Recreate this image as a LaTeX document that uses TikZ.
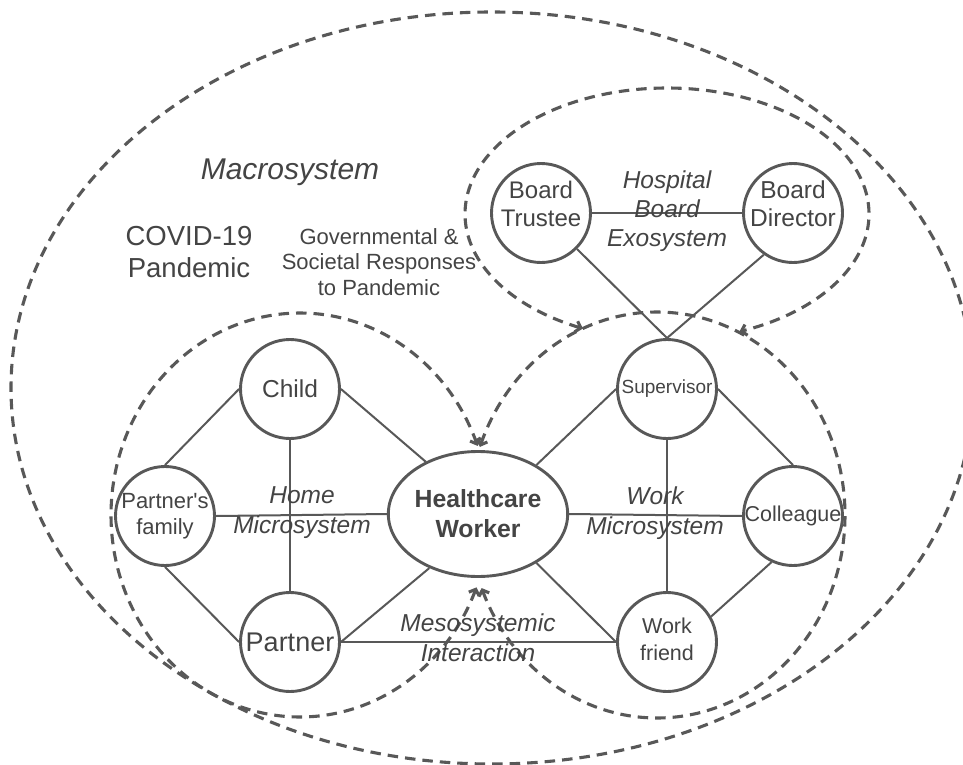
\documentclass[tikz,border=0pt]{standalone}
\usepackage{fontspec}
\setmainfont{Liberation Sans}
\usetikzlibrary{arrows.meta,shapes.geometric}
\definecolor{ln}{RGB}{88,88,88}
\definecolor{tx}{RGB}{68,68,68}
\newcommand\myfs[2]{\fontsize{#1}{#2}\selectfont}
\begin{document}
\begin{tikzpicture}[x=1pt,y=-1pt,
  dsh/.style={draw=ln, line width=3.1pt, dash pattern=on 10.5pt off 7pt},
  bb/.style={{Straight Barb[length=5pt,width=11pt]}-{Straight Barb[length=5pt,width=11pt]}},
  nd/.style={circle, draw=ln, line width=2.9pt, minimum size=99pt, inner sep=0pt, text=tx, align=center},
  edg/.style={draw=ln, line width=2pt},
  lbl/.style={text=tx, align=center, inner sep=0pt}]
\useasboundingbox (0,0) rectangle (963,765);
\fill[white] (0,0) rectangle (963,765);

% dashed system boundaries
\draw[dsh] (492,388) ellipse [x radius=481, y radius=376];
\draw[dsh,bb] plot[domain=114.6:429, samples=150, smooth] ({667+202*cos(\x)},{214+126*sin(\x)});
\draw[dsh,bb] plot[domain=21:340, samples=150, smooth] ({300+189*cos(\x)},{515+202*sin(\x)});
\draw[dsh,bb] plot[domain=199.6:518.9, samples=150, smooth] ({657+188*cos(\x)},{515+203*sin(\x)});

% nodes
\node[nd, font=\myfs{24.5}{28}] (child) at (290,389) {Child};
\node[nd, font=\myfs{22}{26}] (pf) at (165,516) {Partner\textquotesingle s\\family};
\node[nd, font=\myfs{27}{30}] (partner) at (290,642) {Partner};
\node[ellipse, draw=ln, line width=2.9pt, minimum width=137pt, minimum height=125pt, inner sep=0pt, text=tx, align=center, font=\bfseries\myfs{24.8}{30}] (hcw) at (478,514) {Healthcare\\Worker};
\node[nd, font=\myfs{19}{22}] (sup) at (667,389) {Supervisor};
\node[nd, font=\myfs{21.5}{27}] (col) at (793,516) {Colleague};
\node[nd, label={[lbl, font=\myfs{21.5}{27}, yshift=3pt]center:{Work\\friend}}] (wf) at (667,642) {};
\node[nd, label={[lbl, font=\myfs{24}{28}, yshift=9pt]center:{Board\\Trustee}}] (bt) at (541,213) {};
\node[nd, label={[lbl, font=\myfs{24.5}{28}, yshift=9pt]center:{Board\\Director}}] (bd) at (793,213) {};

% connectors
\draw[edg] (child.west) -- (pf.north);
\draw[edg] (child.south) -- (partner.north);
\draw[edg] (child.east) -- (hcw.135);
\draw[edg] (pf.east) -- (hcw.west);
\draw[edg] (pf.south) -- (partner.west);
\draw[edg] (partner.east) -- (hcw.228);
\draw[edg] (partner.east) -- (wf.west);
\draw[edg] (hcw.40) -- (sup.west);
\draw[edg] (hcw.east) -- (col.west);
\draw[edg] (hcw.-40) -- (wf.west);
\draw[edg] (sup.east) -- (col.north);
\draw[edg] (sup.south) -- (wf.north);
\draw[edg] (col.245) -- (wf.30);
\draw[edg] (bt.east) -- (bd.west);
\draw[edg] (bt.-45) -- (sup.north);
\draw[edg] (bd.235) -- (sup.north);

% labels
\node[lbl, font=\itshape\myfs{30}{36}] (macro) at (290,172) {Macrosystem};
\node[lbl, font=\myfs{27.5}{32}] (covid) at (189,252) {COVID-19\\Pandemic};
\node[lbl, font=\myfs{22}{25.5}] (gov) at (379,262) {Governmental \&\\Societal Responses\\to Pandemic};
\node[lbl, font=\itshape\myfs{24.5}{29}] (exo) at (667,211) {Hospital\\Board\\Exosystem};
\node[lbl, font=\itshape\myfs{24.5}{30}] (home) at (302,513) {Home\\Microsystem};
\node[lbl, font=\itshape\myfs{24.5}{30}] (work) at (655,513) {Work\\Microsystem};
\node[lbl, font=\itshape\myfs{24.5}{30}] (meso) at (478,638) {Mesosystemic\\Interaction};
\end{tikzpicture}
\end{document}
